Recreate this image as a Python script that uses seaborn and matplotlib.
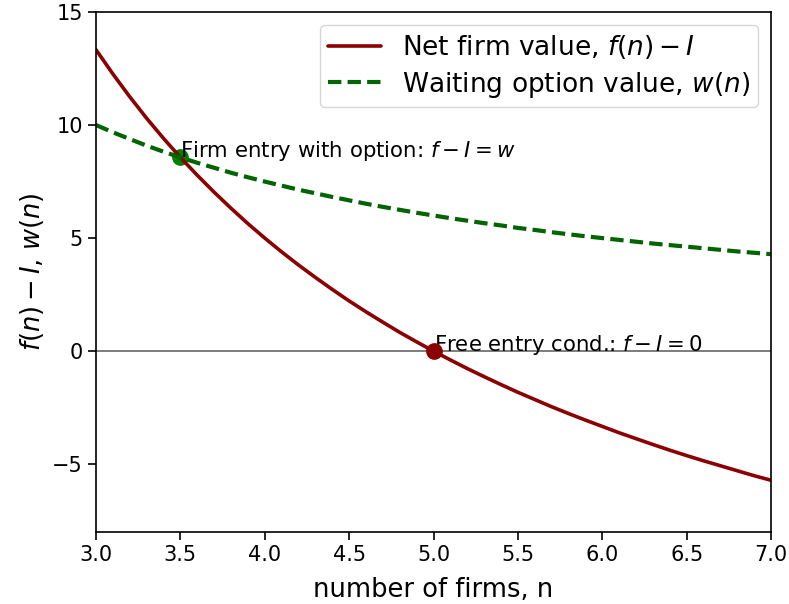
import matplotlib
matplotlib.use("Agg")
import matplotlib.pyplot as plt
import seaborn as sns
import pandas as pd

n_vals = [3.0, 3.1, 3.2, 3.3, 3.4, 3.5, 3.6, 3.7, 3.8, 3.9, 4.0, 4.1, 4.2, 4.3, 4.4,
          4.5, 4.6, 4.7, 4.8, 4.9, 5.0, 5.1, 5.2, 5.3, 5.4, 5.5, 5.6, 5.7, 5.8, 5.9,
          6.0, 6.1, 6.2, 6.3, 6.4, 6.5, 6.6, 6.7, 6.8, 6.9, 7.0]
net_value = [13.33, 12.26, 11.25, 10.30, 9.41, 8.57, 7.78, 7.03, 6.32, 5.64, 5.00,
             4.39, 3.81, 3.26, 2.73, 2.22, 1.74, 1.28, 0.83, 0.41, 0.00, -0.39,
             -0.77, -1.13, -1.48, -1.82, -2.14, -2.46, -2.76, -3.05, -3.33, -3.61,
             -3.87, -4.13, -4.38, -4.62, -4.85, -5.07, -5.29, -5.51, -5.71]
wait_value = [10.00, 9.68, 9.38, 9.09, 8.82, 8.57, 8.33, 8.11, 7.89, 7.69, 7.50,
              7.32, 7.14, 6.98, 6.82, 6.67, 6.52, 6.38, 6.25, 6.12, 6.00, 5.88,
              5.77, 5.66, 5.56, 5.45, 5.36, 5.26, 5.17, 5.08, 5.00, 4.92, 4.84,
              4.76, 4.69, 4.62, 4.55, 4.48, 4.41, 4.35, 4.29]
option_point = (3.5, 8.57)
free_point = (5.0, 0.0)
xticks = [3.0, 3.5, 4.0, 4.5, 5.0, 5.5, 6.0, 6.5, 7.0]
yticks = [-5, 0, 5, 10, 15]

sns.set_style("ticks")
plt.rcParams['font.family'] = ['DejaVu Sans']
plt.rcParams['mathtext.fontset'] = 'dejavusans'
plt.rcParams['text.color'] = 'black'
plt.rcParams['axes.labelcolor'] = 'black'
plt.rcParams['xtick.color'] = 'black'
plt.rcParams['ytick.color'] = 'black'

df = pd.DataFrame({"n": n_vals, "net": net_value, "wait": wait_value})

fig = plt.figure(figsize=(7.89, 6.04), dpi=100)
ax = fig.add_axes([96/789, 1-532/604, (771-96)/789, (532-12)/604])

ax.axhline(0, color="#666666", lw=1.2, zorder=1)
sns.lineplot(data=df, x="n", y="net", ax=ax, color="darkred", lw=2.6,
             label=r"Net firm value, $f(n)-I$")
sns.lineplot(data=df, x="n", y="wait", ax=ax, color="darkgreen", lw=3.0,
             linestyle="--", label=r"Waiting option value, $w(n)$")
ax.lines[-1].set_dashes([3.2, 1.5])

ax.plot([option_point[0]], [option_point[1]], "o", color="green", ms=11, zorder=1.5)
ax.plot([free_point[0]], [free_point[1]], "o", color="darkred", ms=11, zorder=5)
ax.text(option_point[0], option_point[1], r"Firm entry with option: $f-I=w$",
        fontsize=15.3, color="black")
ax.text(free_point[0], free_point[1], r"Free entry cond.: $f-I=0$",
        fontsize=15.3, color="black")

ax.set_xlim(3, 7)
ax.set_ylim(-8, 15)
ax.set_xticks(xticks)
ax.set_yticks(yticks)
ax.tick_params(labelsize=15, length=6, width=1.2)
ax.set_xlabel("number of firms, n", fontsize=18.5, labelpad=8.5)
ax.set_ylabel(r"$f(n)-I$, $w(n)$", fontsize=18.5)
for s in ax.spines.values():
    s.set_visible(True)
    s.set_color("black")
    s.set_linewidth(1.2)
leg = ax.legend(loc="upper right", fontsize=19, handlelength=2.0,
                labelspacing=0.32, borderpad=0.3)
for t in leg.get_texts():
    t.set_color("black")

fig.savefig("out.png", dpi=100)
